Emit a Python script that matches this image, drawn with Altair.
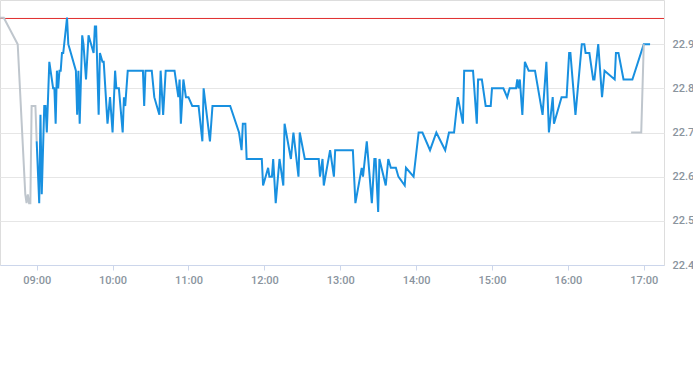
import altair as alt
import pandas as pd

# ---- data ----
pre_times = ["08:31", "08:34", "08:45", "08:51", "08:52", "08:53", "08:54", "08:55",
             "08:56", "08:59", "09:00"]
pre_values = [22.96, 22.96, 22.90, 22.56, 22.54, 22.56, 22.54, 22.54, 22.76, 22.76, 22.68]

main_times = [
    "09:00", "09:02", "09:03", "09:04", "09:06", "09:07", "09:08", "09:10", "09:13", "09:14",
    "09:15", "09:16", "09:17", "09:18", "09:19", "09:20", "09:21", "09:24", "09:25", "09:26",
    "09:31", "09:32", "09:33", "09:34", "09:36", "09:37", "09:39", "09:41", "09:45", "09:46",
    "09:47", "09:49", "09:50", "09:52", "09:53", "09:56", "09:58", "10:00", "10:02", "10:03",
    "10:05", "10:08", "10:09", "10:10", "10:12", "10:24", "10:25", "10:26", "10:31", "10:33",
    "10:35", "10:37", "10:38", "10:40", "10:42", "10:49", "10:51", "10:52", "10:53", "10:54",
    "10:56", "10:58", "11:00", "11:03", "11:08", "11:11", "11:12", "11:17", "11:19", "11:33",
    "11:40", "11:42", "11:43", "11:45", "11:46", "11:58", "11:59", "12:01", "12:03", "12:04",
    "12:06", "12:07", "12:09", "12:12", "12:15", "12:16", "12:21", "12:23", "12:27", "12:28",
    "12:32", "12:43", "12:44", "12:46", "12:47", "12:52", "12:55", "12:56", "13:10", "13:12",
    "13:17", "13:18", "13:21", "13:25", "13:27", "13:28", "13:30", "13:31", "13:36", "13:38",
    "13:40", "13:44", "13:46", "13:51", "13:52", "13:58", "14:02", "14:05", "14:11", "14:16",
    "14:23", "14:26", "14:30", "14:33", "14:37", "14:38", "14:45", "14:48", "14:49", "14:52",
    "14:55", "14:59", "15:00", "15:09", "15:12", "15:14", "15:19", "15:20", "15:21", "15:22",
    "15:24", "15:26", "15:29", "15:34", "15:40", "15:43", "15:45", "15:48", "15:49", "15:55",
    "15:59", "16:01", "16:02", "16:06", "16:11", "16:13", "16:14", "16:17", "16:20", "16:21",
    "16:24", "16:27", "16:29", "16:37", "16:38", "16:40", "16:44", "16:51", "17:00", "17:05",
]
main_values = [
    22.68, 22.54, 22.74, 22.56, 22.76, 22.76, 22.70, 22.86, 22.80, 22.80,
    22.72, 22.84, 22.80, 22.84, 22.84, 22.88, 22.88, 22.96, 22.90, 22.89,
    22.84, 22.74, 22.84, 22.72, 22.92, 22.90, 22.82, 22.92, 22.88, 22.94,
    22.94, 22.74, 22.88, 22.86, 22.86, 22.72, 22.78, 22.70, 22.84, 22.80,
    22.80, 22.70, 22.78, 22.76, 22.84, 22.84, 22.76, 22.84, 22.84, 22.78,
    22.76, 22.74, 22.84, 22.74, 22.84, 22.84, 22.80, 22.78, 22.82, 22.72,
    22.82, 22.78, 22.78, 22.76, 22.76, 22.68, 22.80, 22.68, 22.76, 22.76,
    22.70, 22.66, 22.72, 22.72, 22.64, 22.64, 22.58, 22.60, 22.62, 22.60,
    22.60, 22.64, 22.54, 22.64, 22.58, 22.72, 22.64, 22.70, 22.60, 22.70,
    22.64, 22.64, 22.60, 22.64, 22.58, 22.66, 22.60, 22.66, 22.66, 22.54,
    22.62, 22.60, 22.68, 22.54, 22.64, 22.64, 22.52, 22.64, 22.58, 22.64,
    22.62, 22.62, 22.60, 22.58, 22.62, 22.60, 22.70, 22.70, 22.66, 22.70,
    22.66, 22.70, 22.70, 22.78, 22.72, 22.84, 22.84, 22.72, 22.82, 22.82,
    22.76, 22.76, 22.80, 22.80, 22.78, 22.80, 22.80, 22.82, 22.80, 22.82,
    22.74, 22.86, 22.84, 22.84, 22.74, 22.86, 22.70, 22.78, 22.72, 22.78,
    22.78, 22.88, 22.88, 22.74, 22.90, 22.90, 22.88, 22.88, 22.82, 22.82,
    22.90, 22.78, 22.84, 22.82, 22.88, 22.88, 22.82, 22.82, 22.90, 22.90,
]

post_times = ["16:50", "16:58", "17:00"]
post_values = [22.70, 22.70, 22.90]

prev_close = 22.96

x_tick_labels = ["09:00", "10:00", "11:00", "12:00", "13:00", "14:00", "15:00", "16:00", "17:00"]
x_range = ["08:31", "17:16"]
y_ticks = [22.4, 22.5, 22.6, 22.7, 22.8, 22.9]
y_range = [22.4, 23.0]


def to_min(s):
    h, m = s.split(":")
    return int(h) * 60 + int(m)


rows = []
for name, ts, vs in (("pre", pre_times, pre_values),
                     ("main", main_times, main_values),
                     ("post", post_times, post_values)):
    for t, v in zip(ts, vs):
        rows.append({"series": name, "t": to_min(t), "price": v})
df = pd.DataFrame(rows)

label_color = "#8a949e"
font = "Roboto"

x_scale = alt.Scale(domain=[to_min(x_range[0]), to_min(x_range[1])], nice=False, zero=False)
y_scale = alt.Scale(domain=y_range, nice=False, zero=False)

lines = alt.Chart(df).mark_line(strokeWidth=2, interpolate="linear", clip=True).encode(
    x=alt.X("t:Q", scale=x_scale,
            axis=alt.Axis(values=[to_min(s) for s in x_tick_labels],
                          labelExpr="(floor(datum.value/60) < 10 ? '0' : '') + floor(datum.value/60) + ':00'",
                          grid=False, domainColor="#ccd6eb", tickColor="#ccd6eb", tickSize=5,
                          labelColor=label_color, labelFontSize=11, labelFont=font,
                          labelFontWeight=500, labelPadding=4, title=None)),
    y=alt.Y("price:Q", scale=y_scale,
            axis=alt.Axis(orient="right", values=y_ticks, format=".1f", grid=True,
                          gridColor="#e6e6e6", domain=False, ticks=False,
                          labelColor=label_color, labelFontSize=11, labelFont=font,
                          labelFontWeight=500, labelPadding=8, title=None)),
    color=alt.Color("series:N", scale=alt.Scale(domain=["pre", "main", "post"],
                                               range=["#bfc6cd", "#1890e0", "#bfc6cd"]),
                    legend=None),
    detail="series:N",
)

rule = alt.Chart(pd.DataFrame({"price": [prev_close]})).mark_rule(
    color="#e02b2b", strokeWidth=1, yOffset=0.8
).encode(y=alt.Y("price:Q", scale=y_scale))

chart = alt.layer(rule, lines).properties(
    width=664, height=265,
    padding={"left": 0, "top": 0, "right": 29, "bottom": 100},
    autosize=alt.AutoSizeParams(type="none"),
).configure_view(stroke=None).configure(background="white")

chart.save("out.html", embed_options={"renderer": "svg", "actions": False})
